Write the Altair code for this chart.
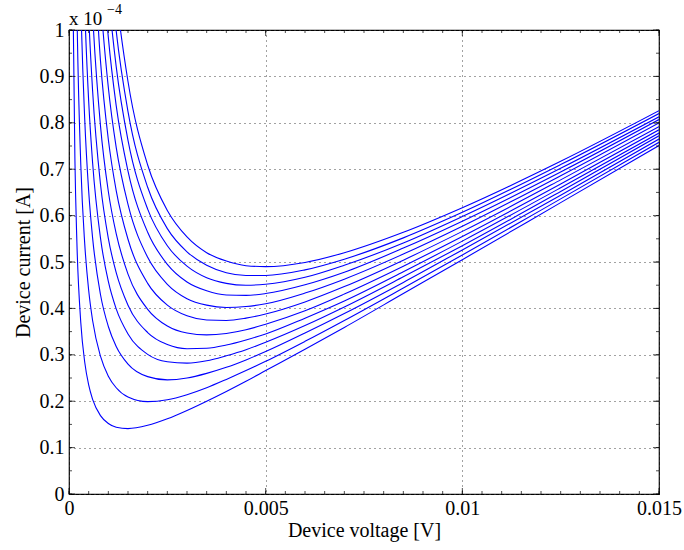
import altair as alt
import pandas as pd

# Device voltage sample points [V]
voltage = [0.0001, 0.00015, 0.0002, 0.0003, 0.0004, 0.0005, 0.0006, 0.0008,
           0.001, 0.0012, 0.0015, 0.002, 0.0025, 0.003, 0.0035, 0.004,
           0.0045, 0.005, 0.006, 0.007, 0.0085, 0.01, 0.0125, 0.015]

# Device current for each sweep, in units of 1e-4 A (None = far above the frame)
current_00 = [1.079, 0.722, 0.544, 0.369, 0.284, 0.235, 0.204, 0.169, 0.152, 0.144, 0.141, 0.148,
              0.162, 0.180, 0.200, 0.221, 0.243, 0.266, 0.312, 0.359, 0.432, 0.505, 0.628, 0.751]
current_01 = [None, 1.402, 1.054, 0.709, 0.539, 0.439, 0.374, 0.297, 0.254, 0.229, 0.209, 0.199,
              0.203, 0.214, 0.229, 0.247, 0.266, 0.286, 0.329, 0.374, 0.444, 0.515, 0.636, 0.758]
current_02 = [None, None, 1.589, 1.066, 0.807, 0.653, 0.552, 0.430, 0.361, 0.318, 0.280, 0.253,
              0.246, 0.250, 0.260, 0.273, 0.289, 0.307, 0.347, 0.389, 0.456, 0.526, 0.644, 0.765]
current_03 = [None, None, None, 1.389, 1.049, 0.847, 0.714, 0.552, 0.458, 0.399, 0.345, 0.301,
              0.285, 0.282, 0.287, 0.298, 0.311, 0.327, 0.363, 0.403, 0.468, 0.535, 0.652, 0.772]
current_04 = [None, None, None, None, 1.282, 1.033, 0.869, 0.668, 0.551, 0.477, 0.407, 0.348,
              0.322, 0.313, 0.314, 0.321, 0.332, 0.345, 0.379, 0.416, 0.479, 0.545, 0.660, 0.778]
current_05 = [None, None, None, None, None, 1.235, 1.037, 0.794, 0.652, 0.561, 0.474, 0.398,
              0.362, 0.347, 0.343, 0.346, 0.354, 0.366, 0.395, 0.431, 0.491, 0.555, 0.668, 0.785]
current_06 = [None, None, None, None, None, None, 1.224, 0.934, 0.764, 0.654, 0.549, 0.454,
              0.407, 0.384, 0.375, 0.374, 0.379, 0.388, 0.414, 0.447, 0.504, 0.566, 0.677, 0.792]
current_07 = [None, None, None, None, None, None, 1.411, 1.074, 0.876, 0.747, 0.624, 0.510,
              0.452, 0.421, 0.407, 0.402, 0.404, 0.410, 0.433, 0.463, 0.517, 0.577, 0.686, 0.800]
current_08 = [None, None, None, None, None, None, None, 1.209, 0.984, 0.837, 0.696, 0.564,
              0.495, 0.457, 0.438, 0.429, 0.428, 0.432, 0.451, 0.478, 0.530, 0.588, 0.694, 0.807]
current_09 = [None, None, None, None, None, None, None, 1.334, 1.084, 0.921, 0.762, 0.614,
              0.535, 0.491, 0.466, 0.454, 0.450, 0.452, 0.467, 0.493, 0.541, 0.598, 0.702, 0.813]
current_10 = [None, None, None, None, None, None, None, None, 1.177, 0.998, 0.824, 0.661,
              0.572, 0.522, 0.493, 0.477, 0.471, 0.471, 0.483, 0.506, 0.552, 0.607, 0.710, 0.820]
current_11 = [None, None, None, None, None, None, None, None, 1.274, 1.079, 0.889, 0.709,
              0.611, 0.554, 0.520, 0.502, 0.492, 0.490, 0.499, 0.520, 0.564, 0.617, 0.717, 0.826]

sweeps = [current_00, current_01, current_02, current_03, current_04, current_05,
          current_06, current_07, current_08, current_09, current_10, current_11]

# Axis ticks
x_major = [0, 0.005, 0.01, 0.015]
y_major = [0, 0.1, 0.2, 0.3, 0.4, 0.5, 0.6, 0.7, 0.8, 0.9, 1]
x_minor = [round(i * 0.0005, 4) for i in range(31)]
y_minor = [round(i * 0.05, 2) for i in range(21)]

X_TITLE = "Device voltage [V]"
Y_TITLE = "Device current [A]"

rows = []
for k, cur in enumerate(sweeps):
    for v, i in zip(voltage, cur):
        if i is not None:
            rows.append({"curve": k, "V": v, "I": i})
df = pd.DataFrame(rows)

FONT = "Liberation Serif"
W, H = 590, 464

xs = alt.Scale(domain=[0, 0.015], nice=False, zero=False)
ys = alt.Scale(domain=[0, 1], nice=False, zero=False)

# Plain decimal labels (0, 0.005, 0.01, 0.015 / 0, 0.1, ... 1)
LABEL = "'' + datum.value"

x_axis = alt.Axis(values=x_major, labelExpr=LABEL, grid=True, ticks=False,
                  domain=False, labelPadding=4, titlePadding=2,
                  gridDash=[1, 4], gridColor="#444", labelFlush=False)
y_axis = alt.Axis(values=y_major, labelExpr=LABEL, grid=True, ticks=False,
                  domain=False, labelPadding=5, titlePadding=6,
                  gridDash=[1, 4], gridColor="#444", labelFlush=False)

lines = alt.Chart(df).mark_line(
    color="#0000ff", strokeWidth=1.1, interpolate="monotone", clip=True
).encode(
    x=alt.X("V:Q", scale=xs, title=X_TITLE, axis=x_axis),
    y=alt.Y("I:Q", scale=ys, title=Y_TITLE, axis=y_axis),
    detail="curve:N",
)


def tick_layer(values, axis, side, length):
    """Inward-pointing tick marks along one edge of the frame."""
    tdf = pd.DataFrame({"v": values})
    if axis == "x":
        off = -length / 2 if side == "low" else length / 2
        return alt.Chart(tdf).mark_tick(
            orient="vertical", size=length, thickness=1, color="black", yOffset=off
        ).encode(
            x=alt.X("v:Q", scale=xs, title=X_TITLE, axis=x_axis),
            y=alt.value(H if side == "low" else 0),
        )
    off = length / 2 if side == "low" else -length / 2
    return alt.Chart(tdf).mark_tick(
        orient="horizontal", size=length, thickness=1, color="black", xOffset=off
    ).encode(
        y=alt.Y("v:Q", scale=ys, title=Y_TITLE, axis=y_axis),
        x=alt.value(0 if side == "low" else W),
    )


ticks = []
for side in ("low", "high"):
    ticks.append(tick_layer(x_minor, "x", side, 3))
    ticks.append(tick_layer(x_major, "x", side, 6))
    ticks.append(tick_layer(y_minor, "y", side, 3))
    ticks.append(tick_layer(y_major, "y", side, 6))

exp_base = alt.Chart(pd.DataFrame({"t": ["x 10"]})).mark_text(
    align="left", baseline="alphabetic", font=FONT, fontSize=19, color="black"
).encode(x=alt.value(0), y=alt.value(-5), text="t:N")
exp_sup = alt.Chart(pd.DataFrame({"t": ["\u22124"]})).mark_text(
    align="left", baseline="alphabetic", font=FONT, fontSize=14, color="black"
).encode(x=alt.value(38), y=alt.value(-16), text="t:N")

chart = alt.layer(lines, *ticks, exp_base, exp_sup).properties(
    width=W, height=H,
    autosize=alt.AutoSizeParams(type="none"),
    padding={"left": 69, "top": 30, "right": 25, "bottom": 56},
    background="white",
).configure_view(
    stroke="black", strokeWidth=1.2
).configure_axis(
    labelFont=FONT, labelFontSize=20, labelColor="black",
    titleFont=FONT, titleFontSize=20, titleFontWeight="normal", titleColor="black",
)

chart.save("out.html", embed_options={"renderer": "svg", "actions": False})
